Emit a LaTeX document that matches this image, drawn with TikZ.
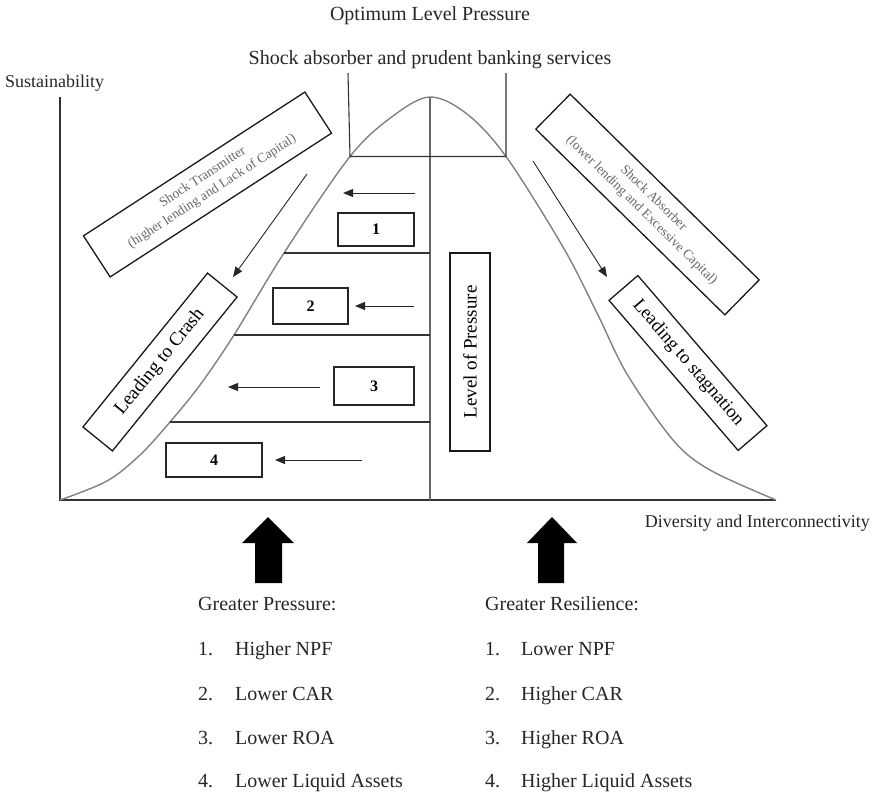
\documentclass[tikz,border=0pt]{standalone}
\usepackage{fontspec}
\setmainfont{Liberation Serif}
\usetikzlibrary{arrows.meta}
\begin{document}
\begin{tikzpicture}[x=1pt,y=-1pt,
  ln/.style={draw=black!80, line width=1.1pt},
  crv/.style={draw=black!50, line width=1.4pt},
  lbl/.style={font=\fontsize{20}{22}\selectfont, text=black!85, inner sep=0pt},
  numbox/.style={draw=black!85, line width=1.2pt, inner sep=0pt, font=\bfseries\fontsize{16}{18}\selectfont},
  rbox/.style={draw=black!90, line width=1.3pt, inner sep=0pt, align=center},
  thinarrow/.style={-{Triangle[length=10pt,width=8pt]}, line width=0.9pt, draw=black!85},
  blockarrow/.style={fill=black},
]
\useasboundingbox (0,0) rectangle (873,793);

% axes and centre line
\coordinate (yTop) at (60,97);
\coordinate (origin) at (60,500);
\coordinate (xEnd) at (776,500);
\coordinate (peak) at (430,97);
\coordinate (base) at (430,500);
\draw[ln] (yTop) -- (origin) -- (xEnd);
\draw[crv, draw=black!60] (peak) -- (base);

% bell curve
\draw[crv] plot[smooth, tension=0.55] coordinates {
 (60,500) (107,481) (140,455) (170,422) (200,385) (234,335) (284,253)
 (350,156.5) (393,116) (430,97) (467,114) (506,156.5) (563,247) (597,313)
 (627,374) (673,440) (710,470) (776,500)};

% curve anchor points
\coordinate (cL1) at (350,156.5);
\coordinate (cR1) at (506,156.5);
\coordinate (cL2) at (284,253);
\coordinate (cL3) at (234,335);
\coordinate (cL4) at (170,422);
\coordinate (m2) at (430,253);
\coordinate (m3) at (430,335);
\coordinate (m4) at (430,422);
\coordinate (tL) at (348,73);
\coordinate (tR) at (506,73);

% optimum box
\draw[ln] (tL) -- (cL1) -- (cR1) -- (tR);
% level lines
\draw[ln] (cL2) -- (m2);
\draw[ln] (cL3) -- (m3);
\draw[ln] (cL4) -- (m4);

% number boxes
\node[numbox, minimum width=76pt, minimum height=33pt] (b1) at (376,229.5) {1};
\node[numbox, minimum width=75pt, minimum height=36pt] (b2) at (310.5,306) {2};
\node[numbox, minimum width=80pt, minimum height=38pt] (b3) at (374,386) {3};
\node[numbox, minimum width=96pt, minimum height=34pt] (b4) at (214,460) {4};

% small arrows
\coordinate (a1s) at (415,193); \coordinate (a1e) at (343,193);
\coordinate (a2s) at (414,306); \coordinate (a2e) at (355,306);
\coordinate (a3s) at (320,387); \coordinate (a3e) at (228,387);
\coordinate (a4s) at (362,460); \coordinate (a4e) at (275,460);
\draw[thinarrow] (a1s) -- (a1e);
\draw[thinarrow] (a2s) -- (a2e);
\draw[thinarrow] (a3s) -- (a3e);
\draw[thinarrow] (a4s) -- (a4e);

% level of pressure
\node[rbox, rotate=90, minimum width=198pt, minimum height=40pt,
      font=\fontsize{19}{21}\selectfont] (lop) at (470,352) {Level of Pressure};

% rotated boxes
\node[rbox, rotate=33, minimum width=264pt, minimum height=49pt,
      font=\fontsize{13.5}{17}\selectfont, text=black!60] (trans) at (207.5,184.5)
      {Shock Transmitter\\(higher lending and Lack of Capital)};
\node[rbox, rotate=51, minimum width=198pt, minimum height=38pt,
      font=\fontsize{19}{21}\selectfont] (crash) at (160,362) {Leading to Crash};
\node[rbox, rotate=-44.5, minimum width=265pt, minimum height=49pt,
      font=\fontsize{13.5}{17}\selectfont, text=black!60] (absorb) at (647.5,204.5)
      {Shock Absorber\\(lower lending and Excessive Capital)};
\node[rbox, rotate=-49.3, minimum width=198pt, minimum height=38pt,
      font=\fontsize{18.5}{21}\selectfont] (stag) at (688,363) {Leading to stagnation};

% diagonal arrows
\coordinate (dL1) at (307,174); \coordinate (dL2) at (233,277);
\coordinate (dR1) at (533,161); \coordinate (dR2) at (607,277);
\draw[thinarrow] (dL1) -- (dL2);
\draw[thinarrow] (dR1) -- (dR2);

% titles and axis labels
\node[lbl] (opt) at (430,16) {Optimum Level Pressure};
\node[lbl] (sab) at (430,60) {Shock absorber and prudent banking services};
\node[lbl, anchor=west, font=\fontsize{18}{20}\selectfont] (sus) at (5,83) {Sustainability};
\node[lbl, anchor=east, font=\fontsize{18}{20}\selectfont] (div) at (870,523) {Diversity and Interconnectivity};

% block arrows
\fill[blockarrow] (268,517) -- (294,543) -- (282,543) -- (282,583) -- (255,583) -- (255,543) -- (242,543) -- cycle;
\fill[blockarrow] (552,517) -- (577,543) -- (564,543) -- (564,583) -- (538,583) -- (538,543) -- (527,543) -- cycle;

% bottom lists
\node[lbl, anchor=base west] (gp) at (198,610) {Greater Pressure:};
\node[lbl, anchor=base west] (gp1n) at (198,655) {1.};
\node[lbl, anchor=base west] (gp1) at (235,655) {Higher NPF};
\node[lbl, anchor=base west] (gp2n) at (198,700) {2.};
\node[lbl, anchor=base west] (gp2) at (235,700) {Lower CAR};
\node[lbl, anchor=base west] (gp3n) at (198,744) {3.};
\node[lbl, anchor=base west] (gp3) at (235,744) {Lower ROA};
\node[lbl, anchor=base west] (gp4n) at (198,787) {4.};
\node[lbl, anchor=base west] (gp4) at (235,787) {Lower Liquid Assets};

\node[lbl, anchor=base west] (gr) at (485,610) {Greater Resilience:};
\node[lbl, anchor=base west] (gr1n) at (485,655) {1.};
\node[lbl, anchor=base west] (gr1) at (521,655) {Lower NPF};
\node[lbl, anchor=base west] (gr2n) at (485,700) {2.};
\node[lbl, anchor=base west] (gr2) at (521,700) {Higher CAR};
\node[lbl, anchor=base west] (gr3n) at (485,744) {3.};
\node[lbl, anchor=base west] (gr3) at (521,744) {Higher ROA};
\node[lbl, anchor=base west] (gr4n) at (485,787) {4.};
\node[lbl, anchor=base west] (gr4) at (521,787) {Higher Liquid Assets};
\end{tikzpicture}
\end{document}
